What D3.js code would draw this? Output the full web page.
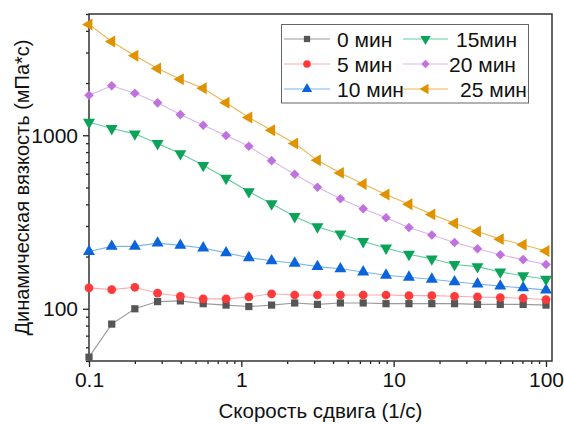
<!DOCTYPE html>
<html>
<head>
<meta charset="utf-8">
<script src="https://cdn.jsdelivr.net/npm/d3@7"></script>
<style>
  body { margin: 0; background: #fff; }
  text { font-family: "Liberation Sans", Arial, sans-serif; fill: #111; }
</style>
</head>
<body>
<svg id="chart" width="564" height="424"></svg>
<script>
// shear rate, 1/s
var shearRate = [0.1, 0.141, 0.2, 0.282, 0.398, 0.562, 0.794, 1.12, 1.58, 2.24, 3.16,
                 4.47, 6.31, 8.91, 12.6, 17.8, 25.1, 35.5, 50.1, 70.8, 100];

var min0  = [52.6, 81.6, 100, 110, 111, 107, 105, 103, 105, 108, 106, 108, 108, 107, 107, 107, 107, 106, 106, 106, 105];
var min5  = [132, 129, 133, 123, 118, 114, 114, 117, 122, 120, 120, 120, 120, 120, 119, 119, 118, 117, 116, 115, 113];
var min10 = [214, 229, 229, 239, 232, 224, 210, 197, 189, 183, 175, 170, 163, 156, 152, 148, 143, 139, 135, 132, 128];
var min15 = [1189, 1093, 1019, 896, 784, 671, 565, 473, 403, 340, 297, 270, 244, 224, 206, 194, 180, 175, 163, 155, 148];
var min20 = [1702, 1928, 1748, 1538, 1316, 1142, 996, 864, 714, 596, 502, 431, 377, 335, 294, 266, 241, 222, 205, 192, 180];
var min25 = [4355, 3473, 2873, 2427, 2104, 1867, 1538, 1265, 1069, 896, 717, 607, 524, 455, 400, 350, 311, 279, 252, 234, 215];

var seriesNames = ["0 мин", "5 мин", "10 мин", "15мин", "20 мин", "25 мин"];
var xTickLabels = ["0.1", "1", "10", "100"];
var yTickLabels = ["100", "1000"];

var series = [
  {name: seriesNames[0], values: min0,  marker: "#565656", line: "#9a9a9a", sym: d3.symbolSquare,   size: 52, rot: 0},
  {name: seriesNames[1], values: min5,  marker: "#ff3a3a", line: "#ffaaaa", sym: d3.symbolCircle,   size: 60, rot: 0},
  {name: seriesNames[2], values: min10, marker: "#0a64dc", line: "#7ab4ee", sym: d3.symbolTriangle, size: 62, rot: 0},
  {name: seriesNames[3], values: min15, marker: "#0ba35a", line: "#5fcf9c", sym: d3.symbolTriangle, size: 62, rot: 180},
  {name: seriesNames[4], values: min20, marker: "#c071e0", line: "#dcb4ee", sym: d3.symbolSquare,   size: 46, rot: 45},
  {name: seriesNames[5], values: min25, marker: "#df9300", line: "#edb54e", sym: d3.symbolTriangle, size: 62, rot: -90}
];

var margin = {top: 14, right: 12, bottom: 63, left: 89};
var width = 564 - margin.left - margin.right,
    height = 424 - margin.top - margin.bottom;

var svg = d3.select("#chart");
var g = svg.append("g").attr("transform", "translate(" + margin.left + "," + margin.top + ")");

var x = d3.scaleLog().domain([0.1, 109.5]).range([0, width]);
var y = d3.scaleLog().domain([50, 5000]).range([height, 0]);

// minor ticks
var xMinor = [], yMinor = [];
[0.1, 1, 10, 100].forEach(function(d) {
  for (var k = 2; k <= 9; k++) if (d * k <= 109.5) xMinor.push(d * k);
});
[10, 100, 1000].forEach(function(d) {
  for (var k = 2; k <= 9; k++) if (d * k >= 50 && d * k <= 5000) yMinor.push(d * k);
});

g.append("g").attr("transform", "translate(0," + height + ")")
  .call(d3.axisBottom(x).tickValues(xTickLabels.map(Number)).tickFormat(function(d, i) { return xTickLabels[i]; })
    .tickSizeInner(6).tickSizeOuter(0).tickPadding(5));
g.append("g").attr("transform", "translate(0," + height + ")")
  .call(d3.axisBottom(x).tickValues(xMinor).tickFormat("").tickSizeInner(3).tickSizeOuter(0))
  .select(".domain").remove();

g.append("g")
  .call(d3.axisLeft(y).tickValues(yTickLabels.map(Number)).tickFormat(function(d, i) { return yTickLabels[i]; })
    .tickSizeInner(6).tickSizeOuter(0).tickPadding(5));
g.append("g")
  .call(d3.axisLeft(y).tickValues(yMinor).tickFormat("").tickSizeInner(3).tickSizeOuter(0))
  .select(".domain").remove();

g.selectAll(".tick line").attr("stroke", "#222").attr("stroke-width", 1.3);
g.selectAll(".tick text").style("font-size", "21px").attr("fill", "#111");
g.selectAll(".domain").remove();

// frame
g.append("rect").attr("width", width).attr("height", height)
  .attr("fill", "none").attr("stroke", "#333").attr("stroke-width", 1.5);

var line = d3.line()
  .x(function(d, i) { return x(shearRate[i]); })
  .y(function(d) { return y(d); });

series.forEach(function(s) {
  g.append("path").datum(s.values)
    .attr("d", line).attr("fill", "none")
    .attr("stroke", s.line).attr("stroke-width", 1.1);
});
series.forEach(function(s) {
  var sym = d3.symbol().type(s.sym).size(s.size);
  g.selectAll(null).data(s.values).enter().append("path")
    .attr("d", sym)
    .attr("transform", function(d, i) {
      return "translate(" + x(shearRate[i]) + "," + y(d) + ") rotate(" + s.rot + ")";
    })
    .attr("fill", s.marker);
});

// axis titles
svg.append("text")
  .attr("x", margin.left + width / 2).attr("y", 418)
  .attr("text-anchor", "middle").style("font-size", "20.5px")
  .text("Скорость сдвига (1/с)");
svg.append("text")
  .attr("transform", "translate(29," + (margin.top + height / 2) + ") rotate(-90)")
  .attr("text-anchor", "middle").style("font-size", "20px")
  .text("Динамическая вязкость (мПа*с)");

// legend
var legend = svg.append("g");
legend.append("rect").attr("x", 281.5).attr("y", 24.5).attr("width", 247).attr("height", 78.5)
  .attr("fill", "#fff").attr("stroke", "#666").attr("stroke-width", 1);
var legCols = [{x0: 284, x1: 330, tx: [337, 337, 337]}, {x0: 403, x1: 448, tx: [456, 449, 460]}];
series.forEach(function(s, i) {
  var col = legCols[Math.floor(i / 3)], row = i % 3;
  var ly = 39 + row * 25;
  var lg = legend.append("g");
  lg.append("line").attr("x1", col.x0).attr("x2", col.x1).attr("y1", ly).attr("y2", ly)
    .attr("stroke", s.line).attr("stroke-width", 1.2);
  lg.append("path").attr("d", d3.symbol().type(s.sym).size(s.size * 0.75))
    .attr("transform", "translate(" + ((col.x0 + col.x1) / 2) + "," + ly + ") rotate(" + s.rot + ")")
    .attr("fill", s.marker);
  lg.append("text").attr("x", col.tx[row]).attr("y", ly + 7.5).style("font-size", "21px").text(s.name);
});
</script>
</body>
</html>
